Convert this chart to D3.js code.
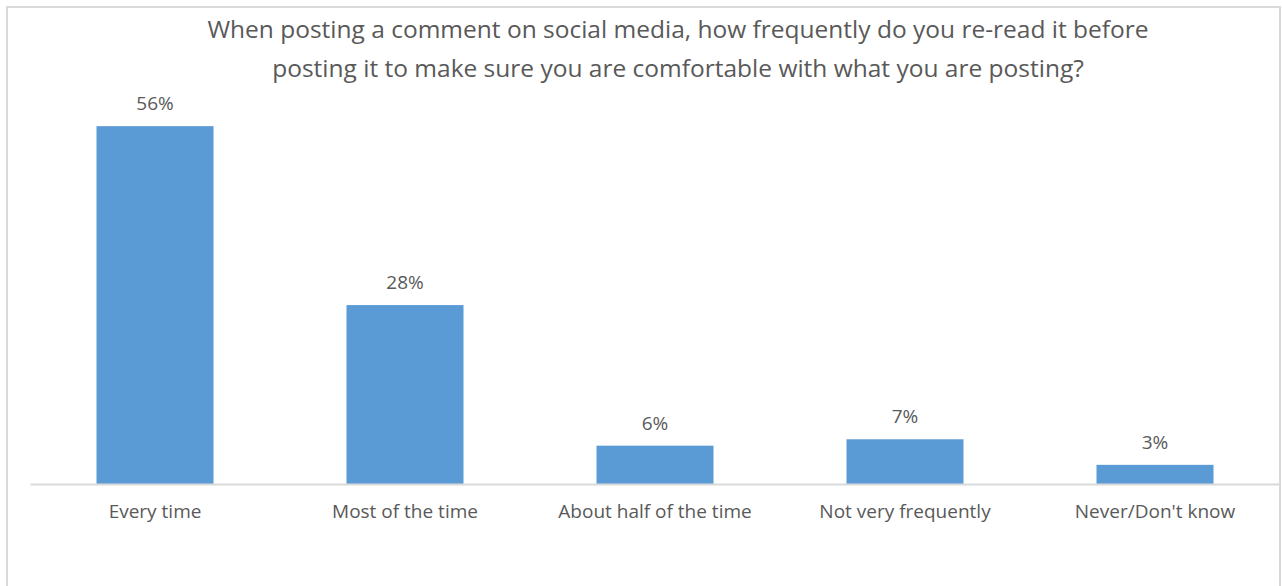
<!DOCTYPE html>
<html>
<head>
<meta charset="utf-8">
<script src="https://cdn.jsdelivr.net/npm/d3@7"></script>
<style>
  html, body { margin: 0; padding: 0; background: #fff; }
  svg { display: block; }
  text { font-family: "Open Sans", "Noto Sans", sans-serif; fill: #595959; }
</style>
</head>
<body>
<svg id="chart" width="1282" height="586"></svg>
<script>
// Survey answers and their shares (%)
const categories = ["Every time", "Most of the time", "About half of the time", "Not very frequently", "Never/Don't know"];
const values = [56, 28, 6, 7, 3];
const titleLines = [
  "When posting a comment on social media, how frequently do you re-read it before",
  "posting it to make sure you are comfortable with what you are posting?"
];

const svg = d3.select("#chart");

// chart frame
svg.append("rect")
  .attr("x", 7).attr("y", 7)
  .attr("width", 1273).attr("height", 590)
  .attr("fill", "#fff")
  .attr("stroke", "#d9d9d9").attr("stroke-width", 2);

const plot = { left: 30, right: 1280, top: 100.6, bottom: 484 };

const x = d3.scaleBand()
  .domain(categories)
  .range([plot.left, plot.right])
  .paddingInner(0.532)
  .paddingOuter(0.266);

const y = d3.scaleLinear()
  .domain([0, 60])
  .range([plot.bottom, plot.top]);

// title
svg.append("text")
  .attr("text-anchor", "middle")
  .attr("font-size", 24.5)
  .selectAll("tspan")
  .data(titleLines)
  .join("tspan")
  .attr("x", 678)
  .attr("y", (d, i) => 38 + i * 39)
  .text(d => d);

// bars
svg.append("g")
  .selectAll("rect")
  .data(values)
  .join("rect")
  .attr("x", (d, i) => x(categories[i]))
  .attr("y", d => y(d))
  .attr("width", x.bandwidth())
  .attr("height", d => y(0) - y(d))
  .attr("fill", "#5b9bd5");

// value labels
svg.append("g")
  .selectAll("text")
  .data(values)
  .join("text")
  .attr("x", (d, i) => x(categories[i]) + x.bandwidth() / 2)
  .attr("y", d => y(d) - 16)
  .attr("text-anchor", "middle")
  .attr("font-size", 19)
  .text(d => d + "%");

// category axis
const axis = d3.axisBottom(x).tickSize(0).tickPadding(21);
const gx = svg.append("g")
  .attr("transform", `translate(0,${plot.bottom})`)
  .call(axis);
gx.select(".domain").attr("stroke", "#d9d9d9").attr("stroke-width", 2);
gx.selectAll(".tick text")
  .attr("font-size", 19)
  .style("font-family", '"Open Sans", "Noto Sans", sans-serif')
  .attr("fill", "#595959");
</script>
</body>
</html>
